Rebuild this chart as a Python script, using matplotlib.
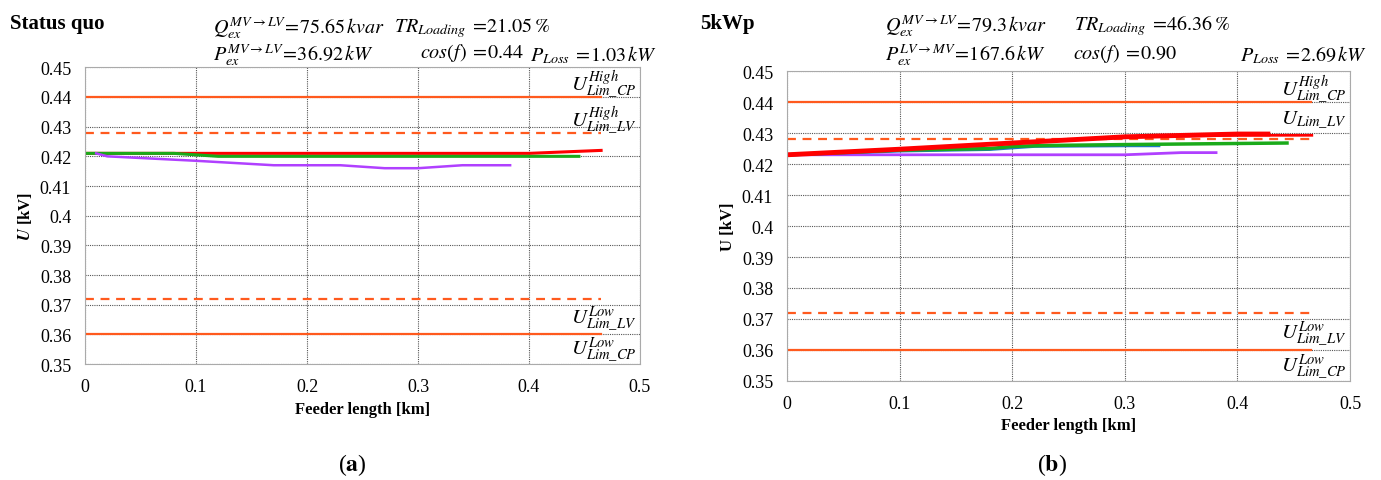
import matplotlib
matplotlib.use('Agg')
import matplotlib.pyplot as plt

plt.rcParams['font.family'] = 'Liberation Serif'
plt.rcParams['mathtext.fontset'] = 'stix'

# limits (kV)
lim_cp = [0.44, 0.36]
lim_lv = [0.428, 0.372]
lim_x = [0, 0.465]

# (a) status quo
a_red_x = [0, 0.10, 0.20, 0.30, 0.40, 0.465]
a_red_y = [0.421, 0.421, 0.421, 0.421, 0.421, 0.422]
a_green_x = [0, 0.08, 0.12, 0.20, 0.30, 0.40, 0.445]
a_green_y = [0.421, 0.421, 0.420, 0.420, 0.420, 0.420, 0.420]
a_purple_x = [0.01, 0.02, 0.10, 0.17, 0.23, 0.27, 0.30, 0.34, 0.383]
a_purple_y = [0.421, 0.420, 0.4185, 0.417, 0.417, 0.416, 0.416, 0.417, 0.417]

# (b) 5kWp
b_red_x = [0, 0.10, 0.20, 0.30, 0.40, 0.427]
b_red_y = [0.423, 0.4248, 0.4268, 0.4288, 0.4297, 0.4297]
b_red2_x = [0.30, 0.40, 0.466]
b_red2_y = [0.4288, 0.4293, 0.4293]
b_blue_x = [0, 0.10, 0.18, 0.22, 0.30, 0.33]
b_blue_y = [0.423, 0.4243, 0.4248, 0.4258, 0.426, 0.426]
b_green_x = [0, 0.10, 0.18, 0.20, 0.23, 0.30, 0.444]
b_green_y = [0.423, 0.4245, 0.425, 0.4257, 0.426, 0.4263, 0.4268]
b_purple_x = [0, 0.10, 0.20, 0.30, 0.35, 0.381]
b_purple_y = [0.423, 0.423, 0.423, 0.423, 0.4237, 0.4237]

xticks = [0, 0.1, 0.2, 0.3, 0.4, 0.5]
xtick_labels = ['0', '0.1', '0.2', '0.3', '0.4', '0.5']
yticks = [0.35, 0.36, 0.37, 0.38, 0.39, 0.40, 0.41, 0.42, 0.43, 0.44, 0.45]
ytick_labels = ['0.35', '0.36', '0.37', '0.38', '0.39', '0.4', '0.41', '0.42', '0.43', '0.44', '0.45']

lim_col = '#ff5a1e'

fig = plt.figure(figsize=(13.81, 4.81), dpi=100)
ax1 = fig.add_axes([0.0616, 0.241, 0.4018, 0.617])
ax2 = fig.add_axes([0.5699, 0.206, 0.4077, 0.644])


def base_axes(ax, ylab, lab_y, high_lv):
    ax.set_xlim(0, 0.5)
    ax.set_ylim(0.35, 0.45)
    ax.set_xticks(xticks)
    ax.set_xticklabels(xtick_labels, fontsize=13)
    ax.set_yticks(yticks)
    ax.set_yticklabels(ytick_labels, fontsize=13)
    ax.tick_params(length=0, pad=10)
    ax.grid(True, color='#555555', linestyle=(0, (1, 1)), linewidth=0.8)
    for s in ax.spines.values():
        s.set_color('#aaaaaa')
    ax.set_xlabel('Feeder length [km]', fontsize=12, fontweight='bold')
    ax.set_ylabel(ylab, fontsize=12, fontweight='bold')

    for v in lim_cp:
        ax.plot(lim_x, [v, v], color=lim_col, lw=1.6)
    for v in lim_lv:
        ax.plot(lim_x, [v, v], color=lim_col, lw=1.6, ls=(0, (4, 3)))

    names = [r'$U_{Lim\_CP}^{High}$', high_lv, r'$U_{Lim\_LV}^{Low}$', r'$U_{Lim\_CP}^{Low}$']
    for name, y in zip(names, lab_y):
        ax.text(0.497, y, name, ha='right', va='center', fontsize=15)


base_axes(ax1, r'$\boldsymbol{U}$ [kV]', [0.4445, 0.4325, 0.3655, 0.3550], r'$U_{Lim\_LV}^{High}$')
base_axes(ax2, 'U [kV]', [0.4445, 0.4345, 0.3655, 0.3548], r'$U_{Lim\_LV}$')

ax1.plot(a_red_x, a_red_y, color='#ff0000', lw=2.2)
ax1.plot(a_green_x, a_green_y, color='#1aaa1a', lw=2.2)
ax1.plot(a_purple_x, a_purple_y, color='#b040ff', lw=1.8)

ax2.plot(b_purple_x, b_purple_y, color='#b040ff', lw=2)
ax2.plot(b_blue_x, b_blue_y, color='#1f78c8', lw=2.5)
ax2.plot(b_green_x, b_green_y, color='#1aaa1a', lw=2.5)
ax2.plot(b_red_x, b_red_y, color='#ff0000', lw=3.5)
ax2.plot(b_red2_x, b_red2_y, color='#ff0000', lw=2)

# headers
hs = 14.5
fig.text(0.007, 0.95, 'Status quo', fontsize=15, fontweight='bold', va='center')
fig.text(0.154, 0.942, r'$Q_{ex}^{MV\rightarrow LV}\!=\!75.65\,kvar$', fontsize=hs, va='center')
fig.text(0.285, 0.942, r'$TR_{Loading}\;=\!21.05\,\%$', fontsize=hs, va='center')
fig.text(0.154, 0.885, r'$P_{ex}^{MV\rightarrow LV}\!=\!36.92\,kW$', fontsize=hs, va='center')
fig.text(0.304, 0.89, r'$cos(f)\;=\!0.44$', fontsize=hs, va='center')
fig.text(0.384, 0.885, r'$P_{Loss}\;=\!1.03\,kW$', fontsize=hs, va='center')

fig.text(0.507, 0.95, '5kWp', fontsize=15, fontweight='bold', va='center')
fig.text(0.641, 0.945, r'$Q_{ex}^{MV\rightarrow LV}\!=\!79.3\,kvar$', fontsize=hs, va='center')
fig.text(0.778, 0.945, r'$TR_{Loading}\;=\!46.36\,\%$', fontsize=hs, va='center')
fig.text(0.641, 0.885, r'$P_{ex}^{LV\rightarrow MV}\!=\!167.6\,kW$', fontsize=hs, va='center')
fig.text(0.777, 0.888, r'$cos(f)\;=\!0.90$', fontsize=hs, va='center')
fig.text(0.898, 0.885, r'$P_{Loss}\;=\!2.69\,kW$', fontsize=hs, va='center')

fig.text(0.255, 0.033, r'($\mathbf{a}$)', fontsize=17, ha='center', va='center')
fig.text(0.762, 0.033, r'($\mathbf{b}$)', fontsize=17, ha='center', va='center')

fig.savefig('out.png', dpi=100)
